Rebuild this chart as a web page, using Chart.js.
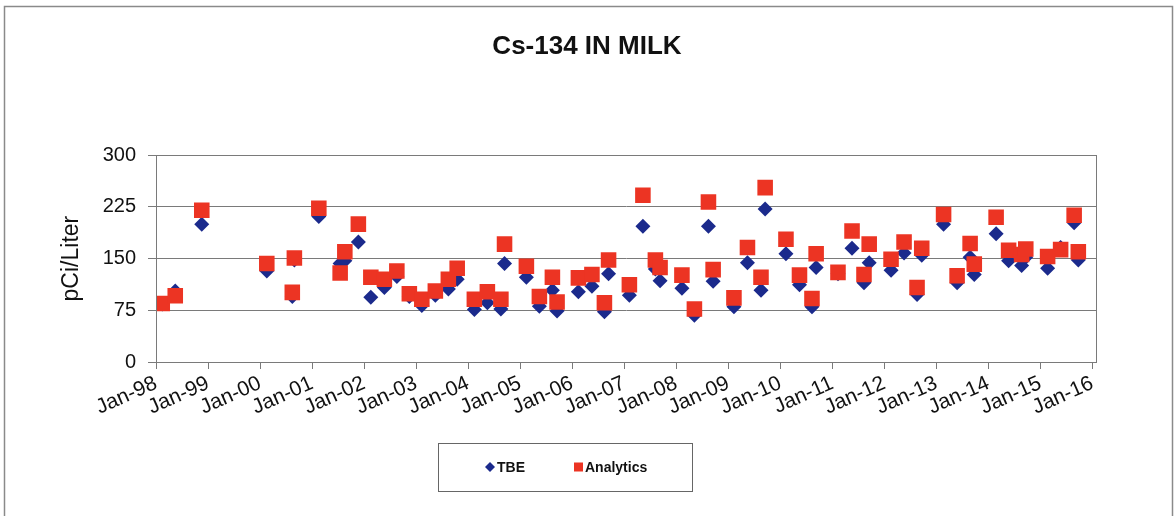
<!DOCTYPE html>
<html>
<head>
<meta charset="utf-8">
<title>Cs-134 IN MILK</title>
<script src="https://cdn.jsdelivr.net/npm/chart.js@4.4.1/dist/chart.umd.min.js"></script>
<style>
  html, body { margin: 0; padding: 0; background: #fff; }
  #wrap { width: 1174px; height: 516px; }
</style>
</head>
<body>
<div id="wrap"><canvas id="milkChart" width="1174" height="516"></canvas></div>
<script>
// sample dates as decimal years
const sampleDates = [
    1998.12, 1998.37, 1998.88, 2000.13, 2000.62, 2000.66, 2001.13, 2001.54, 2001.63, 2001.89,
    2002.13, 2002.39, 2002.63, 2002.87, 2003.11, 2003.37, 2003.62, 2003.79, 2004.12, 2004.37,
    2004.63, 2004.70, 2005.12, 2005.37, 2005.62, 2005.71, 2006.12, 2006.38, 2006.62, 2006.70,
    2007.10, 2007.36, 2007.60, 2007.69, 2008.11, 2008.35, 2008.62, 2008.71, 2009.11, 2009.37,
    2009.63, 2009.71, 2010.11, 2010.37, 2010.61, 2010.69, 2011.11, 2011.38, 2011.61, 2011.71,
    2012.13, 2012.38, 2012.63, 2012.72, 2013.14, 2013.40, 2013.65, 2013.73, 2014.15, 2014.39,
    2014.64, 2014.72, 2015.14, 2015.39, 2015.65, 2015.73
];
const tbeValues = [
    84, 103, 200, 132, 95, 148, 211, 143, 147, 174,
    94, 108, 124, 95, 82, 97, 106, 120, 76, 86,
    77, 143, 123, 81, 104, 74, 102, 110, 73, 128,
    97, 197, 135, 118, 107, 68, 197, 117, 80, 144,
    104, 222, 157, 112, 80, 137, 128, 165, 115, 144,
    133, 158, 98, 155, 200, 115, 152, 127, 186, 147,
    140, 152, 136, 166, 202, 148
];
const analyticsValues = [
    85, 96, 220, 143, 101, 151, 223, 129, 160, 200,
    123, 120, 132, 99, 91, 103, 120, 136, 91, 102,
    91, 171, 139, 95, 123, 87, 122, 127, 86, 148,
    112, 242, 148, 137, 126, 77, 232, 134, 93, 166,
    123, 253, 178, 126, 92, 157, 130, 190, 127, 171,
    149, 174, 108, 165, 214, 125, 172, 142, 210, 162,
    156, 164, 153, 163, 213, 160
];
const yTicks = [0, 75, 150, 225, 300];
const firstYear = 1998;
const lastYear = 2016;

const FONT = '"Liberation Sans", Arial, sans-serif';
const GRID = '#7a7a7a';

function toPoints(values) {
    return sampleDates.map((d, i) => ({ x: d, y: values[i] }));
}

// frame around the whole chart, the plot area and the boxed legend
const framePlugin = {
    id: 'frame',
    beforeDraw(chart) {
        const c = chart.ctx;
        c.save();
        c.fillStyle = '#fff';
        c.fillRect(0, 0, chart.width, chart.height);
        c.strokeStyle = '#8a8a8a';
        c.lineWidth = 1.5;
        c.beginPath();
        c.moveTo(4.5, chart.height + 2);
        c.lineTo(4.5, 6.5);
        c.lineTo(1172.5, 6.5);
        c.lineTo(1172.5, chart.height + 2);
        c.stroke();
        c.restore();
    },
    afterDraw(chart) {
        const c = chart.ctx;
        const a = chart.chartArea;
        c.save();
        c.strokeStyle = GRID;
        c.lineWidth = 1;
        c.strokeRect(Math.round(a.left) + 0.5, Math.round(a.top) + 0.5,
            Math.round(a.right - a.left), Math.round(a.bottom - a.top));

        // legend
        const bx = 438, by = 443, bw = 254, bh = 48;
        c.strokeStyle = '#666';
        c.strokeRect(bx + 0.5, by + 0.5, bw, bh);
        const cy = by + bh / 2;
        const ds = chart.data.datasets;
        c.font = 'bold 14px ' + FONT;
        c.textBaseline = 'middle';
        c.fillStyle = ds[0].backgroundColor;
        c.beginPath();
        c.moveTo(490, cy - 5);
        c.lineTo(495, cy);
        c.lineTo(490, cy + 5);
        c.lineTo(485, cy);
        c.closePath();
        c.fill();
        c.fillStyle = '#111';
        c.fillText(ds[0].label, 497, cy + 1);
        c.fillStyle = ds[1].backgroundColor;
        c.fillRect(574, cy - 4.5, 9, 9);
        c.fillStyle = '#111';
        c.fillText(ds[1].label, 585, cy + 1);
        c.restore();
    }
};

const ctx = document.getElementById('milkChart').getContext('2d');
const milkChart = new Chart(ctx, {
    type: 'scatter',
    data: {
        datasets: [{
            label: 'TBE',
            data: toPoints(tbeValues),
            backgroundColor: '#1b2a8c',
            borderColor: '#1b2a8c',
            borderWidth: 0,
            pointStyle: 'rectRot',
            pointRadius: 7.5,
            order: 2
        }, {
            label: 'Analytics',
            data: toPoints(analyticsValues),
            backgroundColor: '#ec3423',
            borderColor: '#ec3423',
            borderWidth: 0,
            pointStyle: 'rect',
            pointRadius: 11,
            order: 1
        }]
    },
    options: {
        responsive: false,
        animation: false,
        events: [],
        layout: { padding: 0 },
        plugins: {
            legend: { display: false },
            tooltip: { enabled: false },
            title: {
                display: true,
                text: 'Cs-134 IN MILK',
                color: '#111',
                font: { family: FONT, size: 26, weight: 'bold' },
                padding: { top: 31, bottom: 93 }
            }
        },
        scales: {
            x: {
                type: 'linear',
                min: firstYear,
                max: lastYear + 0.07,
                afterFit(scale) { scale.height = 154; },
                afterBuildTicks(scale) {
                    scale.ticks = scale.ticks.filter(t => Number.isInteger(t.value));
                },
                ticks: {
                    stepSize: 1,
                    includeBounds: false,
                    autoSkip: false,
                    minRotation: 24,
                    maxRotation: 24,
                    padding: 2,
                    color: '#111',
                    font: { family: FONT, size: 21 },
                    callback: v => 'Jan-' + String(v % 100).padStart(2, '0')
                },
                grid: { drawOnChartArea: false, tickLength: 7, color: GRID },
                border: { color: GRID }
            },
            y: {
                min: 0,
                max: 300,
                afterFit(scale) { scale.width = 156; },
                afterBuildTicks(scale) {
                    scale.ticks = yTicks.map(v => ({ value: v }));
                },
                ticks: {
                    padding: 12,
                    color: '#111',
                    font: { family: FONT, size: 20 }
                },
                grid: { color: GRID, tickLength: 8 },
                border: { color: GRID },
                title: {
                    display: true,
                    text: 'pCi/Liter',
                    color: '#111',
                    font: { family: FONT, size: 23 },
                    padding: { top: 58, bottom: 0 }
                }
            },
            // empty strip on the right so the title centres on the whole chart
            yRight: {
                position: 'right',
                afterFit(scale) { scale.width = 78; },
                ticks: { display: false },
                grid: { display: false },
                border: { display: false }
            }
        }
    },
    plugins: [framePlugin]
});
</script>
</body>
</html>
